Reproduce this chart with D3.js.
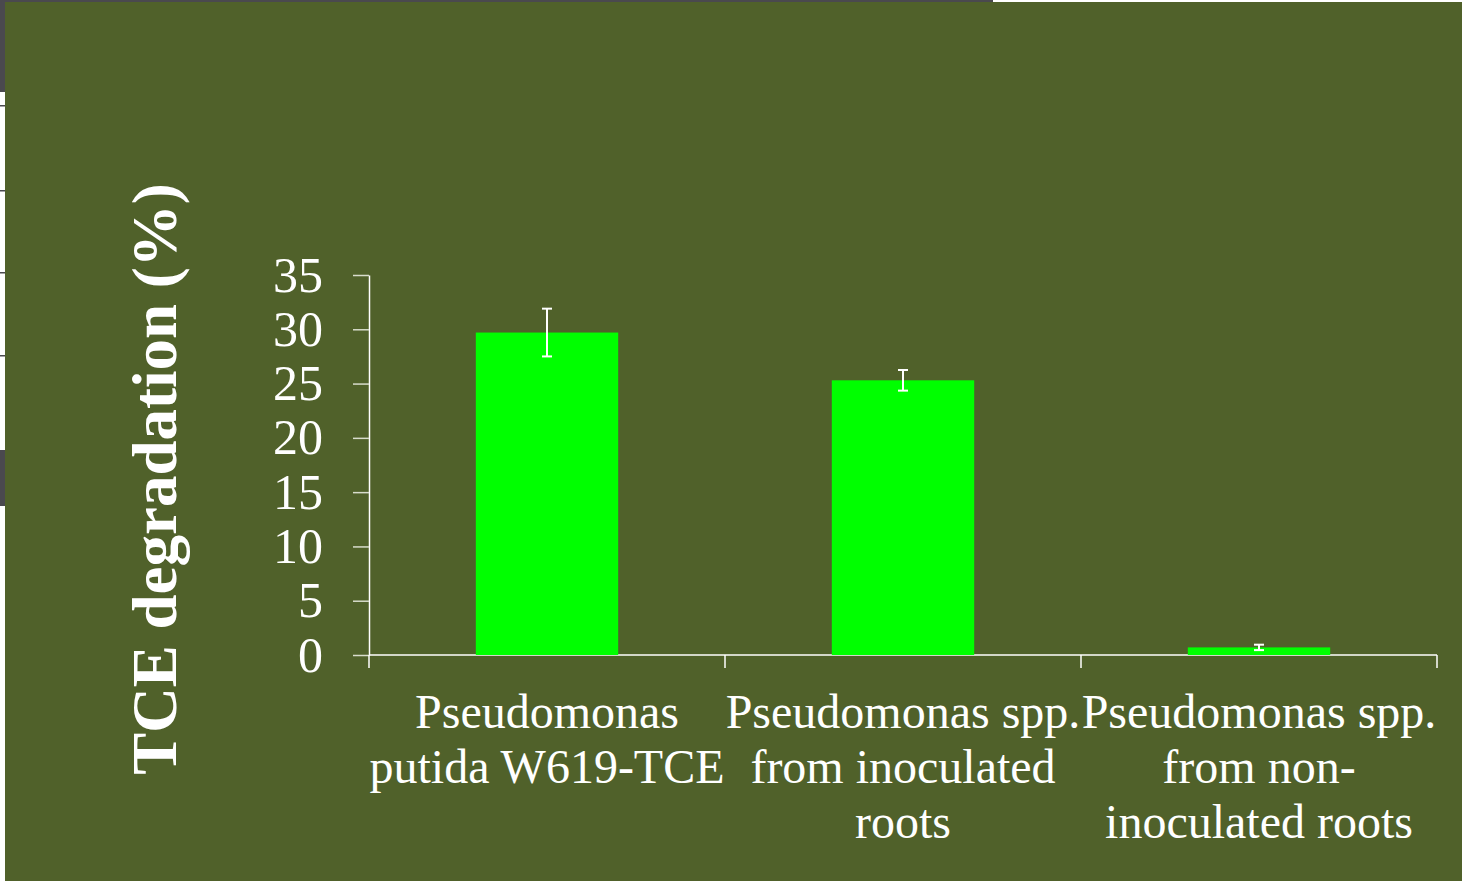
<!DOCTYPE html>
<html>
<head>
  <meta charset="utf-8" />
  <title>TCE degradation</title>
  <style type="text/css">
  body {
    margin: 0;
    background: #ffffff;
    font-family: 'Liberation Serif', 'Times New Roman', serif;
  }
  svg { display: block; }
  </style>
</head>
<body>
  <div id="graph"></div>

  <script src="https://cdn.jsdelivr.net/npm/d3@7"></script>
  <script>
// data
var categories = ["P. putida W619-TCE", "Pseudomonas spp. inoculated", "Pseudomonas spp. non-inoculated"];
var categoryLines = [
  ["Pseudomonas", "putida W619-TCE"],
  ["Pseudomonas spp.", "from inoculated", "roots"],
  ["Pseudomonas spp.", "from non-", "inoculated roots"]
];
var degradation = [29.7, 25.3, 0.7];
var errors = [2.2, 0.95, 0.25];
var yTicks = [0, 5, 10, 15, 20, 25, 30, 35];

var W = 1470, H = 881;
var margin = {top: 275, right: 33, bottom: 226, left: 369},
    width = W - margin.left - margin.right,
    height = H - margin.top - margin.bottom;

var svg = d3.select("#graph").append("svg")
    .attr("width", W)
    .attr("height", H);

// bits of the page behind the slide
svg.append("rect").attr("x", 0).attr("y", 0).attr("width", 993).attr("height", 3).attr("fill", "#4a494e");
svg.append("rect").attr("x", 0).attr("y", 0).attr("width", 6).attr("height", 92).attr("fill", "#4a494e");
svg.append("rect").attr("x", 0).attr("y", 450).attr("width", 6).attr("height", 56).attr("fill", "#4a494e");
[105, 190, 272, 355].forEach(function(yy) {
  svg.append("rect").attr("x", 0).attr("y", yy).attr("width", 6).attr("height", 1.5).attr("fill", "#4a494e");
});

// slide background
svg.append("rect")
    .attr("x", 5).attr("y", 2)
    .attr("width", 1457).attr("height", H - 2)
    .attr("fill", "#50612a");

var g = svg.append("g")
    .attr("transform", "translate(" + margin.left + "," + margin.top + ")");

var x = d3.scaleBand()
    .domain(categories)
    .range([0, width])
    .paddingInner(0)
    .paddingOuter(0);

var y = d3.scaleLinear()
    .domain([0, 35])
    .range([height, 0]);

// y axis
var yAxis = g.append("g")
    .call(d3.axisLeft(y).tickValues(yTicks).tickSize(16).tickPadding(30).tickSizeOuter(0));
yAxis.select(".domain").attr("stroke", "#ffffff").attr("stroke-width", 1.5);
yAxis.selectAll(".tick line").attr("stroke", "#d8dccc").attr("stroke-width", 1.5);
yAxis.selectAll(".tick text")
    .attr("fill", "#ffffff")
    .style("font-family", "'Liberation Serif', serif")
    .style("font-size", "50px");

// x axis line and category dividers
g.append("line")
    .attr("x1", 0).attr("x2", width)
    .attr("y1", y(0)).attr("y2", y(0))
    .attr("stroke", "#ffffff").attr("stroke-width", 1.5);

var dividers = [0].concat(categories.map(function(c) { return x(c) + x.bandwidth(); }));
g.selectAll(".divider")
    .data(dividers)
  .enter().append("line")
    .attr("class", "divider")
    .attr("x1", function(d) { return d; }).attr("x2", function(d) { return d; })
    .attr("y1", y(0)).attr("y2", y(0) + 13)
    .attr("stroke", "#ffffff").attr("stroke-width", 1.5);

// bars
var barW = x.bandwidth() * 0.4;
g.selectAll(".bar")
    .data(degradation)
  .enter().append("rect")
    .attr("class", "bar")
    .attr("x", function(d, i) { return x(categories[i]) + (x.bandwidth() - barW) / 2; })
    .attr("y", function(d) { return y(d); })
    .attr("width", barW)
    .attr("height", function(d) { return y(0) - y(d); })
    .attr("fill", "#00ff00");

// error bars
var eb = g.selectAll(".err")
    .data(degradation)
  .enter().append("g")
    .attr("class", "err")
    .attr("transform", function(d, i) { return "translate(" + (x(categories[i]) + x.bandwidth() / 2) + ",0)"; });
eb.append("line")
    .attr("y1", function(d, i) { return y(d - errors[i]); })
    .attr("y2", function(d, i) { return y(d + errors[i]); })
    .attr("stroke", "#ffffff").attr("stroke-width", 2);
eb.append("line")
    .attr("x1", -5).attr("x2", 5)
    .attr("y1", function(d, i) { return y(d + errors[i]); })
    .attr("y2", function(d, i) { return y(d + errors[i]); })
    .attr("stroke", "#ffffff").attr("stroke-width", 2);
eb.append("line")
    .attr("x1", -5).attr("x2", 5)
    .attr("y1", function(d, i) { return y(d - errors[i]); })
    .attr("y2", function(d, i) { return y(d - errors[i]); })
    .attr("stroke", "#ffffff").attr("stroke-width", 2);

// category labels
var labels = g.selectAll(".cat")
    .data(categoryLines)
  .enter().append("text")
    .attr("class", "cat")
    .attr("text-anchor", "middle")
    .attr("fill", "#ffffff")
    .style("font-size", "48px")
    .attr("transform", function(d, i) { return "translate(" + (x(categories[i]) + x.bandwidth() / 2) + "," + (y(0) + 73) + ")"; });
labels.selectAll("tspan")
    .data(function(d) { return d; })
  .enter().append("tspan")
    .attr("x", 0)
    .attr("y", function(d, j) { return j * 55; })
    .text(function(d) { return d; });

// y title
svg.append("text")
    .attr("transform", "translate(176,479) rotate(-90)")
    .attr("text-anchor", "middle")
    .attr("fill", "#ffffff")
    .style("font-size", "63px")
    .style("font-weight", "bold")
    .text("TCE degradation (%)");
</script>
</body>
</html>
